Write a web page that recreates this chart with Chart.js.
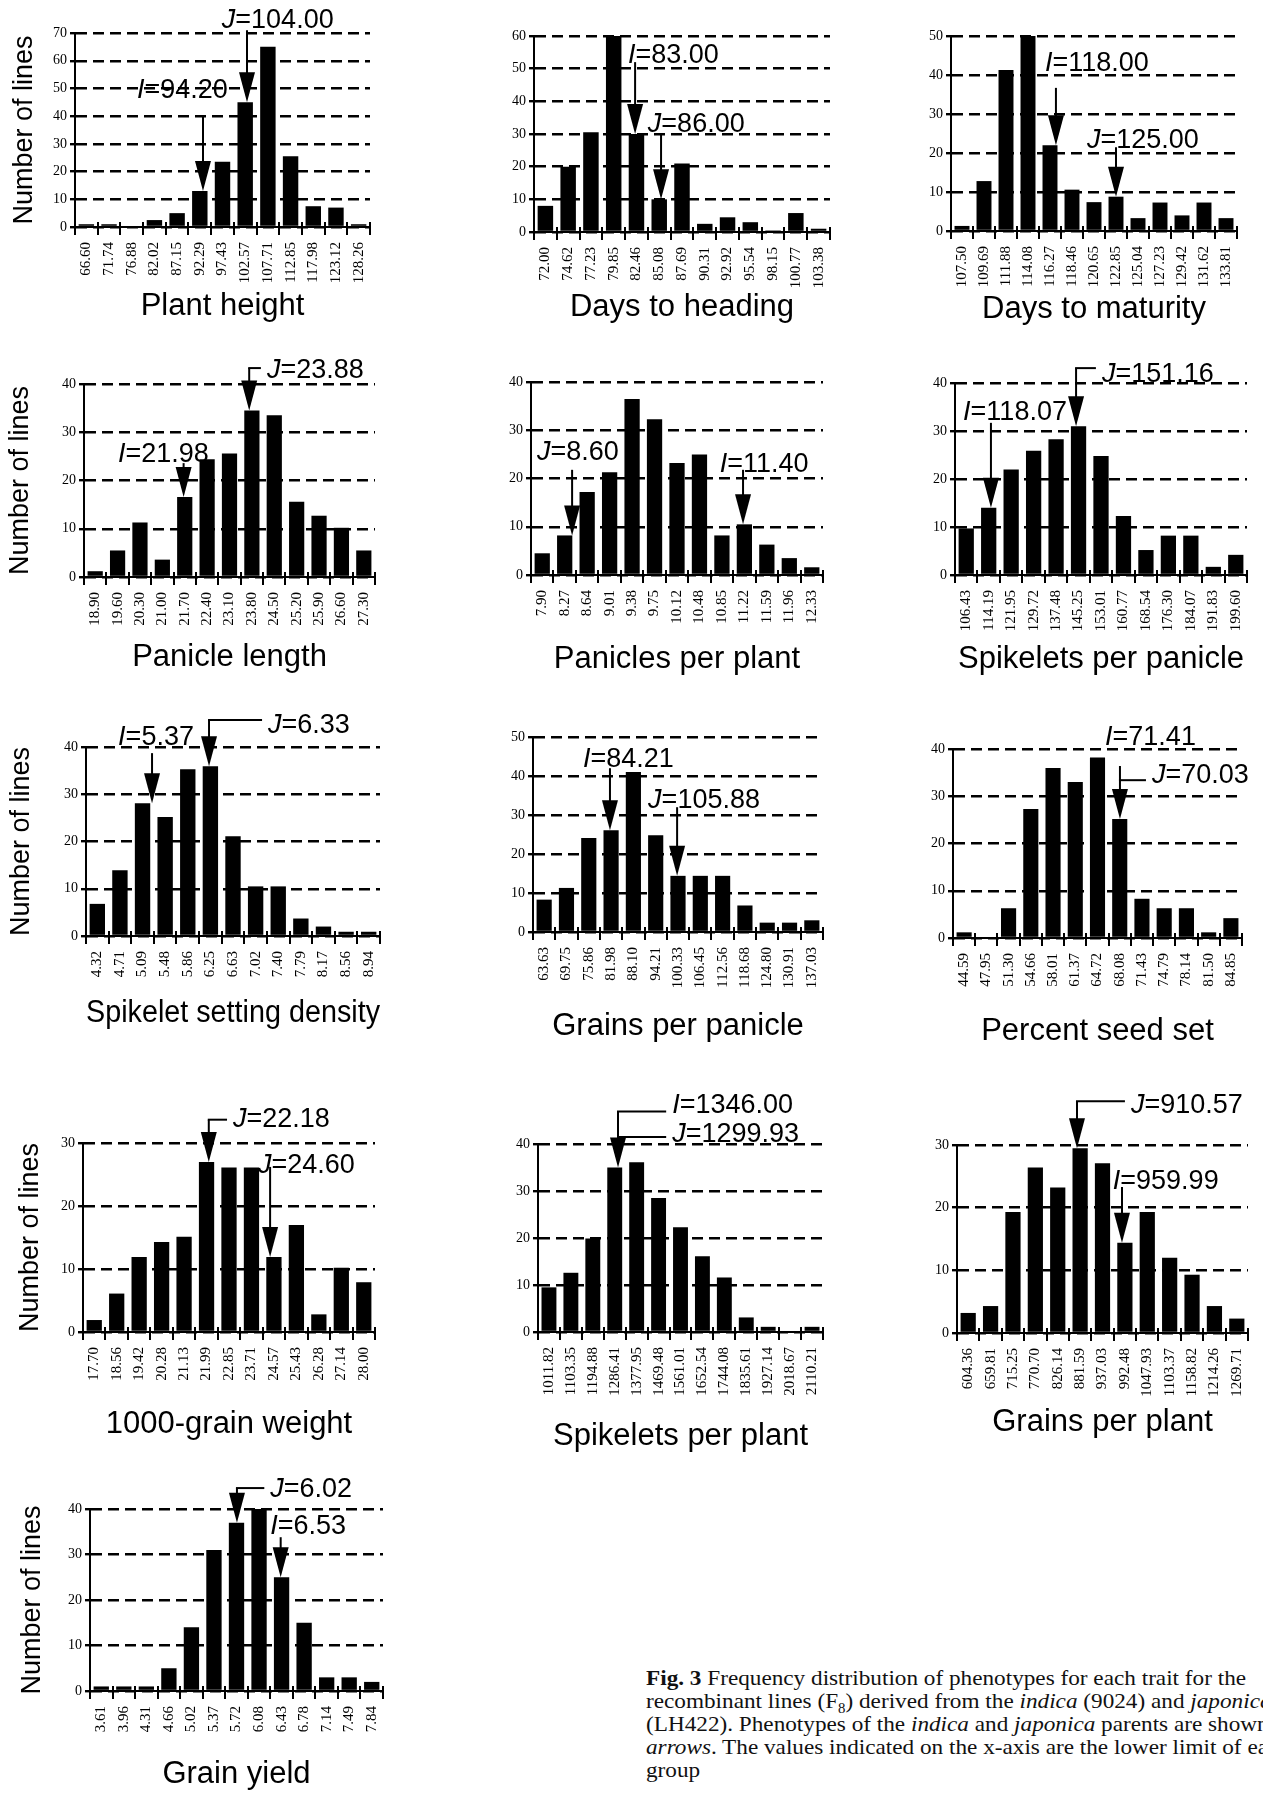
<!DOCTYPE html>
<html>
<head>
<meta charset="utf-8">
<script src="https://cdn.jsdelivr.net/npm/chart.js@4.4.0/dist/chart.umd.min.js"></script>
<style>
html, body { margin: 0; padding: 0; width: 1263px; height: 1793px; overflow: hidden; background: #fff; }
#caption { position: absolute; left: 646px; top: 1666px; font-family: "Liberation Serif", "Times New Roman", serif; font-size: 22px; line-height: 23px; color: #111; white-space: nowrap; transform: scaleX(1.055); transform-origin: 0 0; }
#caption div { height: 23px; }
</style>
</head>
<body>
<div id="caption">
  <div><b>Fig. 3</b> Frequency distribution of phenotypes for each trait for the</div>
  <div>recombinant lines (F<sub style="font-size:14px">8</sub>) derived from the <i>indica</i> (9024) and <i>japonica</i></div>
  <div>(LH422). Phenotypes of the <i>indica</i> and <i>japonica</i> parents are shown by</div>
  <div><i>arrows</i>. The values indicated on the x-axis are the lower limit of each</div>
  <div>group</div>
</div>
<script>
// x labels are the lower limit of each group, counts = number of lines
var phLabels = ['66.60','71.74','76.88','82.02','87.15','92.29','97.43','102.57','107.71','112.85','117.98','123.12','128.26'];
var phCounts = [1, 1, 0, 2.5, 5, 13, 23.5, 45, 65, 25.5, 7.5, 7, 1];

var dhLabels = ['72.00','74.62','77.23','79.85','82.46','85.08','87.69','90.31','92.92','95.54','98.15','100.77','103.38'];
var dhCounts = [8, 20, 30.5, 60, 30, 10, 21, 2.5, 4.5, 3, 0.5, 5.8, 1];

var dmLabels = ['107.50','109.69','111.88','114.08','116.27','118.46','120.65','122.85','125.04','127.23','129.42','131.62','133.81'];
var dmCounts = [1.3, 12.8, 41.3, 50, 22, 10.6, 7.4, 8.8, 3.3, 7.3, 4, 7.3, 3.3];

var plLabels = ['18.90','19.60','20.30','21.00','21.70','22.40','23.10','23.80','24.50','25.20','25.90','26.60','27.30'];
var plCounts = [1.2, 5.5, 11.3, 3.6, 16.6, 24.4, 25.6, 34.5, 33.5, 15.6, 12.7, 10.2, 5.5];

var ppLabels = ['7.90','8.27','8.64','9.01','9.38','9.75','10.12','10.48','10.85','11.22','11.59','11.96','12.33'];
var ppCounts = [4.5, 8.2, 17.2, 21.3, 36.5, 32.3, 23.2, 25, 8.2, 10.5, 6.3, 3.5, 1.6];

var spLabels = ['106.43','114.19','121.95','129.72','137.48','145.25','153.01','160.77','168.54','176.30','184.07','191.83','199.60'];
var spCounts = [9.7, 14, 22, 25.9, 28.3, 31, 24.8, 12.3, 5.2, 8.2, 8.2, 1.7, 4.2];

var ssLabels = ['4.32','4.71','5.09','5.48','5.86','6.25','6.63','7.02','7.40','7.79','8.17','8.56','8.94'];
var ssCounts = [6.8, 13.9, 28.1, 25.2, 35.3, 35.9, 21.1, 10.5, 10.5, 3.7, 2, 0.9, 0.9];

var gpLabels = ['63.63','69.75','75.86','81.98','88.10','94.21','100.33','106.45','112.56','118.68','124.80','130.91','137.03'];
var gpCounts = [8.3, 11.3, 24.1, 26.1, 41, 24.8, 14.4, 14.4, 14.4, 6.8, 2.4, 2.4, 3];

var psLabels = ['44.59','47.95','51.30','54.66','58.01','61.37','64.72','68.08','71.43','74.79','78.14','81.50','84.85'];
var psCounts = [1.2, 0, 6.3, 27.3, 36, 33, 38.2, 25.2, 8.3, 6.3, 6.3, 1.2, 4.2];

var gwLabels = ['17.70','18.56','19.42','20.28','21.13','21.99','22.85','23.71','24.57','25.43','26.28','27.14','28.00'];
var gwCounts = [1.9, 6.1, 11.9, 14.3, 15.1, 27, 26.1, 26.1, 11.9, 17, 2.8, 10.2, 7.9];

var splLabels = ['1011.82','1103.35','1194.88','1286.41','1377.95','1469.48','1561.01','1652.54','1744.08','1835.61','1927.14','2018.67','2110.21'];
var splCounts = [9.5, 12.6, 19.9, 35, 36.1, 28.5, 22.3, 16.1, 11.6, 3.1, 1.1, 0, 1.1];

var gplLabels = ['604.36','659.81','715.25','770.70','826.14','881.59','937.03','992.48','1047.93','1103.37','1158.82','1214.26','1269.71'];
var gplCounts = [3.2, 4.3, 19.3, 26.4, 23.2, 29.5, 27.1, 14.4, 19.3, 12, 9.3, 4.3, 2.3];

var gyLabels = ['3.61','3.96','4.31','4.66','5.02','5.37','5.72','6.08','6.43','6.78','7.14','7.49','7.84'];
var gyCounts = [1, 1, 1, 5, 14, 31, 37, 40, 25, 15, 3, 3, 2];

var SANS = '"Liberation Sans", Arial, sans-serif';
var SERIF = '"Liberation Serif", "Times New Roman", serif';
Chart.defaults.color = '#000';

// box = [plot left, plot top (y max), plot right, y=0], page pixels
// arrows: bar = group pointed at, dx = shift in group widths, top = shaft start (y value)
// label lx/ly = text left (group index) / baseline (y value), link = bracket line height
var panels = [
  { title: 'Plant height', labels: phLabels, counts: phCounts, yMax: 70, box: [75, 33, 370, 227], titleY: 306, yTitleX: 24,
    arrows: [
      { bar: 5, dx: 0.14, top: 39.8, labels: [{ who: 'I', text: '=94.20', lx: 2.23, ly: 46.6 }] },
      { bar: 7, dx: 0.08, top: 71, labels: [{ who: 'J', text: '=104.00', lx: 5.97, ly: 71.8 }] }
    ] },
  { title: 'Days to heading', labels: dhLabels, counts: dhCounts, yMax: 60, box: [534, 36, 830, 232], titleY: 307,
    arrows: [
      { bar: 4, dx: -0.06, top: 52, labels: [{ who: 'I', text: '=83.00', lx: 3.63, ly: 51.7 }] },
      { bar: 5, dx: 0.08, top: 30, labels: [{ who: 'J', text: '=86.00', lx: 4.5, ly: 30.6 }] }
    ] },
  { title: 'Days to maturity', labels: dmLabels, counts: dmCounts, yMax: 50, box: [951, 36, 1237, 231], titleY: 309,
    arrows: [
      { bar: 4, dx: 0.27, top: 36.7, labels: [{ who: 'I', text: '=118.00', lx: 3.77, ly: 41 }] },
      { bar: 7, dx: 0.0, top: 21.5, labels: [{ who: 'J', text: '=125.00', lx: 5.68, ly: 21.3 }] }
    ] },
  { title: 'Panicle length', labels: plLabels, counts: plCounts, yMax: 40, box: [84, 384, 375, 577], titleY: 657, yTitleX: 20,
    arrows: [
      { bar: 4, dx: -0.05, top: 23.6, labels: [{ who: 'I', text: '=21.98', lx: 1.02, ly: 23.8 }] },
      { bar: 7, dx: -0.12, top: 43.3, labels: [{ who: 'J', text: '=23.88', lx: 7.67, ly: 41.2, link: 43.3 }] }
    ] },
  { title: 'Panicles per plant', labels: ppLabels, counts: ppCounts, yMax: 40, box: [531, 382, 823, 575], titleY: 659,
    arrows: [
      { bar: 1, dx: 0.33, top: 21.8, labels: [{ who: 'J', text: '=8.60', lx: -0.23, ly: 23.8 }] },
      { bar: 9, dx: -0.06, top: 21.8, labels: [{ who: 'I', text: '=11.40', lx: 7.9, ly: 21.3 }] }
    ] },
  { title: 'Spikelets per panicle', labels: spLabels, counts: spCounts, yMax: 40, box: [955, 383, 1247, 575], titleY: 659,
    arrows: [
      { bar: 1, dx: 0.1, top: 31.7, labels: [{ who: 'I', text: '=118.07', lx: -0.14, ly: 32.3 }] },
      { bar: 5, dx: -0.11, top: 43.1, labels: [{ who: 'J', text: '=151.16', lx: 6.04, ly: 40.2, link: 43.1 }] }
    ] },
  { title: 'Spikelet setting density', labels: ssLabels, counts: ssCounts, yMax: 40, box: [86, 747, 380, 936], titleY: 1013, yTitleX: 21,
    arrows: [
      { bar: 2, dx: 0.42, top: 38.7, labels: [{ who: 'I', text: '=5.37', lx: 0.92, ly: 40.4 }] },
      { bar: 5, dx: -0.06, top: 45.7, labels: [{ who: 'J', text: '=6.33', lx: 7.55, ly: 43, link: 45.7 }] }
    ] },
  { title: 'Grains per panicle', labels: gpLabels, counts: gpCounts, yMax: 50, box: [533, 737, 823, 932], titleY: 1026,
    arrows: [
      { bar: 3, dx: -0.05, top: 42, labels: [{ who: 'I', text: '=84.21', lx: 1.74, ly: 42.3 }] },
      { bar: 6, dx: -0.04, top: 32, labels: [{ who: 'J', text: '=105.88', lx: 4.66, ly: 31.8 }] }
    ] },
  { title: 'Percent seed set', labels: psLabels, counts: psCounts, yMax: 40, box: [953, 749, 1242, 938], titleY: 1031,
    arrows: [
      { bar: 7, dx: 0.01, top: 36.4, labels: [
        { who: 'I', text: '=71.41', lx: 6.34, ly: 40.8 },
        { who: 'J', text: '=70.03', lx: 8.45, ly: 32.8, link: 33.4 }
      ] }
    ] },
  { title: '1000-grain weight', labels: gwLabels, counts: gwCounts, yMax: 30, box: [83, 1143, 375, 1332], titleY: 1424, yTitleX: 30,
    arrows: [
      { bar: 5, dx: 0.1, top: 33.7, labels: [{ who: 'J', text: '=22.18', lx: 6.18, ly: 32.5, link: 33.7 }] },
      { bar: 8, dx: -0.17, top: 26.2, labels: [{ who: 'J', text: '=24.60', lx: 7.29, ly: 25.2 }] }
    ] },
  { title: 'Spikelets per plant', labels: splLabels, counts: splCounts, yMax: 40, box: [538, 1144, 823, 1332], titleY: 1436,
    arrows: [
      { bar: 3, dx: 0.15, top: 46.9, labels: [
        { who: 'I', text: '=1346.00', lx: 5.62, ly: 46.6, link: 46.9 },
        { who: 'J', text: '=1299.93', lx: 5.62, ly: 40.4, link: 41.5 }
      ] }
    ] },
  { title: 'Grains per plant', labels: gplLabels, counts: gplCounts, yMax: 30, box: [957, 1145, 1248, 1333], titleY: 1422,
    arrows: [
      { bar: 5, dx: -0.14, top: 37, labels: [{ who: 'J', text: '=910.57', lx: 7.27, ly: 35.1, link: 37 }] },
      { bar: 7, dx: -0.13, top: 23.3, labels: [{ who: 'I', text: '=959.99', lx: 6.46, ly: 23 }] }
    ] },
  { title: 'Grain yield', labels: gyLabels, counts: gyCounts, yMax: 40, box: [90, 1509, 383, 1691], titleY: 1774, yTitleX: 32,
    arrows: [
      { bar: 6, dx: 0.02, top: 44.6, labels: [{ who: 'J', text: '=6.02', lx: 7.5, ly: 42.6, link: 44.6 }] },
      { bar: 8, dx: -0.04, top: 33.8, labels: [{ who: 'I', text: '=6.53', lx: 7.5, ly: 34.5 }] }
    ] }
];

// tick marks between groups + parent arrows
function makeOverlay(p) {
  return {
    id: 'overlay',
    afterDatasetsDraw: function(chart) {
      var ctx = chart.ctx, xs = chart.scales.x, ys = chart.scales.y;
      var y0 = ys.getPixelForValue(0);
      ctx.save();
      ctx.strokeStyle = '#000';
      ctx.fillStyle = '#000';
      ctx.lineWidth = 2;
      ctx.beginPath();
      for (var i = 0; i <= p.labels.length; i++) {
        var bx = Math.round(xs.getPixelForValue(i - 0.5));
        ctx.moveTo(bx, y0 - 5);
        ctx.lineTo(bx, y0 + 8);
      }
      ctx.stroke();

      p.arrows.forEach(function(a) {
        var x = xs.getPixelForValue(a.bar + a.dx);
        var tip = ys.getPixelForValue(p.counts[a.bar]);
        var top = ys.getPixelForValue(a.top);
        var headH = 30, headW = 8;
        ctx.lineWidth = 2;
        ctx.beginPath();
        ctx.moveTo(x, top);
        ctx.lineTo(x, tip - headH + 2);
        ctx.stroke();
        ctx.beginPath();
        ctx.moveTo(x - headW, tip - headH);
        ctx.lineTo(x + headW, tip - headH);
        ctx.lineTo(x, tip);
        ctx.closePath();
        ctx.fill();

        a.labels.forEach(function(l) {
          var lx = xs.getPixelForValue(l.lx);
          var ly = ys.getPixelForValue(l.ly);
          if (l.link != null) {
            var yl = ys.getPixelForValue(l.link);
            ctx.beginPath();
            ctx.moveTo(x - 1, yl);
            ctx.lineTo(lx - 6, yl);
            ctx.stroke();
          }
          ctx.textBaseline = 'alphabetic';
          ctx.textAlign = 'left';
          ctx.font = 'italic 27px ' + SANS;
          ctx.fillText(l.who, lx, ly);
          var w = ctx.measureText(l.who).width;
          ctx.font = '27px ' + SANS;
          ctx.fillText(l.text, lx + w, ly);
        });
      });
      ctx.restore();
    }
  };
}

function buildPanel(p) {
  var padT = 70, padR = 30;
  var L = p.box[0], T = p.box[1], R = p.box[2], B = p.box[3];
  var padL = p.yTitleX != null ? Math.round(L - (p.yTitleX - 16.2)) : 45;
  var padB = Math.round(p.titleY + 18.6 - B);
  var w = padL + (R - L) + padR, h = padT + (B - T) + padB;

  var cv = document.createElement('canvas');
  cv.width = w;
  cv.height = h;
  cv.style.cssText = 'position:absolute;left:' + (L - padL) + 'px;top:' + (T - padT) + 'px;width:' + w + 'px;height:' + h + 'px;';
  document.body.appendChild(cv);

  new Chart(cv.getContext('2d'), {
    type: 'bar',
    data: {
      labels: p.labels,
      datasets: [{
        data: p.counts,
        backgroundColor: '#000',
        borderWidth: 0,
        barPercentage: 0.68,
        categoryPercentage: 1
      }]
    },
    options: {
      responsive: false,
      animation: false,
      events: [],
      layout: { padding: { top: padT, right: padR, left: 0, bottom: 0 } },
      plugins: { legend: { display: false }, tooltip: { enabled: false } },
      scales: {
        x: {
          offset: true,
          grid: { display: false, drawTicks: false },
          border: { display: true, color: '#000', width: 2 },
          ticks: { autoSkip: false, minRotation: 90, maxRotation: 90, padding: 15, color: '#000',
                   font: { family: SERIF, size: 15 } },
          title: { display: true, text: p.title, color: '#000', padding: 0,
                   font: { family: SANS, size: 31 } },
          afterFit: function(s) { s.height = padB; }
        },
        y: {
          min: 0,
          max: p.yMax,
          ticks: { stepSize: 10, padding: 3, color: '#000', font: { family: SERIF, size: 14 } },
          grid: { color: '#000', lineWidth: 2.4, tickLength: 5, tickColor: '#000', tickWidth: 2.4 },
          border: { display: true, color: '#000', width: 2, dash: [11, 6] },
          title: { display: p.yTitleX != null, text: 'Number of lines', color: '#000', padding: 0,
                   font: { family: SANS, size: 27 } },
          afterFit: function(s) { s.width = padL; }
        }
      }
    },
    plugins: [makeOverlay(p)]
  });
}

panels.forEach(buildPanel);
</script>
</body>
</html>
